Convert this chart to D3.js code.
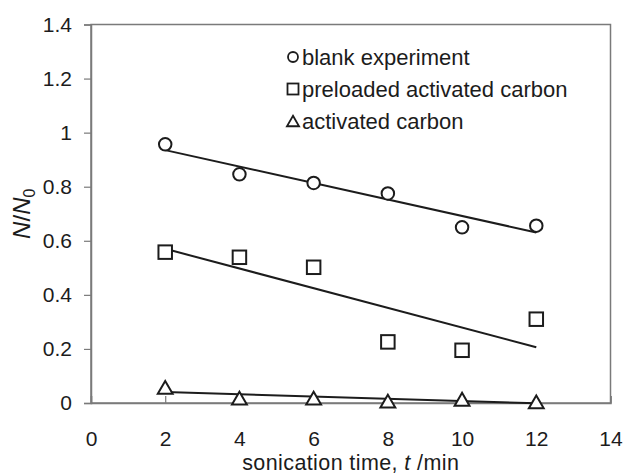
<!DOCTYPE html>
<html>
<head>
<meta charset="utf-8">
<script src="https://cdn.jsdelivr.net/npm/d3@7"></script>
<style>
  html, body { margin: 0; padding: 0; background: #fff; }
  svg { display: block; font-family: "Liberation Sans", Arial, sans-serif; }
</style>
</head>
<body>
<svg id="chart" width="626" height="475"></svg>
<script>
// Sonication time (min)
const times = [2, 4, 6, 8, 10, 12];
// Relative count N/N0 for each treatment
const blankExperiment = [0.957, 0.846, 0.814, 0.775, 0.650, 0.656];
const preloadedCarbon = [0.558, 0.539, 0.502, 0.226, 0.195, 0.310];
const activatedCarbon = [0.058, 0.018, 0.018, 0.007, 0.014, 0.004];

const seriesNames = ["blank experiment", "preloaded activated carbon", "activated carbon"];
const seriesShapes = ["circle", "square", "triangle"];

const xTicks = [0, 2, 4, 6, 8, 10, 12, 14];
const yTicks = [0, 0.2, 0.4, 0.6, 0.8, 1, 1.2, 1.4];
const yTickLabels = ["0", "0.2", "0.4", "0.6", "0.8", "1", "1.2", "1.4"];

const series = [blankExperiment, preloadedCarbon, activatedCarbon].map((vals, i) => ({
  name: seriesNames[i],
  shape: seriesShapes[i],
  points: times.map((t, j) => ({ x: t, y: vals[j] }))
}));

const svg = d3.select("#chart");
const plotL = 91, plotR = 610.5, plotT = 24.5, plotB = 403;

const x = d3.scaleLinear().domain([0, 14]).range([plotL, plotR]);
const y = d3.scaleLinear().domain([0, 1.4]).range([plotB, plotT]);

const axisColor = "#7a7a7a";
const ink = "#1c1c1c";
const tickFont = 21;

// plot frame
svg.append("rect")
  .attr("x", plotL).attr("y", plotT)
  .attr("width", plotR - plotL).attr("height", plotB - plotT)
  .attr("fill", "none").attr("stroke", axisColor).attr("stroke-width", 1.5);

// y axis, ticks pointing outward
const yAxis = svg.append("g")
  .attr("transform", `translate(${plotL},0)`)
  .call(d3.axisLeft(y).tickValues(yTicks)
    .tickFormat((d, i) => yTickLabels[i]).tickSize(7).tickPadding(12));
// x axis, ticks pointing into the plot
const xAxis = svg.append("g")
  .attr("transform", `translate(0,${plotB})`)
  .call(d3.axisBottom(x).tickValues(xTicks).tickSize(-7).tickPadding(28));

[yAxis, xAxis].forEach(g => {
  g.select(".domain").attr("stroke", axisColor).attr("stroke-width", 1.5);
  g.selectAll(".tick line").attr("stroke", axisColor).attr("stroke-width", 1.2);
  g.selectAll(".tick text")
    .attr("fill", ink).attr("font-size", tickFont)
    .attr("font-family", "Liberation Sans, Arial, sans-serif");
});

// least-squares trend line for each series
function linearFit(pts) {
  const mx = d3.mean(pts, p => p.x), my = d3.mean(pts, p => p.y);
  const sxy = d3.sum(pts, p => (p.x - mx) * (p.y - my));
  const sxx = d3.sum(pts, p => (p.x - mx) ** 2);
  const b = sxy / sxx, a = my - b * mx;
  return xv => a + b * xv;
}

const line = d3.line().x(d => x(d[0])).y(d => y(d[1]));
series.forEach(s => {
  const f = linearFit(s.points);
  const x0 = d3.min(times), x1 = d3.max(times);
  svg.append("path")
    .attr("d", line([[x0, f(x0)], [x1, f(x1)]]))
    .attr("fill", "none").attr("stroke", ink).attr("stroke-width", 2);
});

// marker shapes
function drawMarker(g, shape, cx, cy, size) {
  if (shape === "circle") {
    g.append("circle").attr("cx", cx).attr("cy", cy).attr("r", size / 2 - 0.5);
  } else if (shape === "square") {
    g.append("rect").attr("x", cx - size / 2).attr("y", cy - size / 2)
      .attr("width", size).attr("height", size);
  } else {
    const h = size * 0.95, w = size * 1.1;
    g.append("path").attr("d",
      `M${cx},${cy - h / 2}L${cx + w / 2},${cy + h / 2}L${cx - w / 2},${cy + h / 2}Z`);
  }
}

series.forEach(s => {
  const g = svg.append("g").attr("fill", "#fff").attr("stroke", ink).attr("stroke-width", 2);
  s.points.forEach(p => drawMarker(g, s.shape, x(p.x), y(p.y), 13.5));
});

// legend
const legendRows = [57, 89, 121];
series.forEach((s, i) => {
  const g = svg.append("g").attr("fill", "#fff").attr("stroke", ink).attr("stroke-width", 1.8);
  drawMarker(g, s.shape, 293, legendRows[i], 11);
  svg.append("text")
    .attr("x", 302).attr("y", legendRows[i]).attr("dy", "0.36em")
    .attr("font-size", 22).attr("fill", ink)
    .text(s.name);
});

// axis titles
const xTitle = svg.append("text")
  .attr("x", (plotL + plotR) / 2).attr("y", 470.3)
  .attr("text-anchor", "middle").attr("font-size", 21.5)
  .attr("letter-spacing", 0.4).attr("fill", ink);
xTitle.append("tspan").text("sonication time, ");
xTitle.append("tspan").attr("font-style", "italic").text("t");
xTitle.append("tspan").text(" /min");

const yTitle = svg.append("text")
  .attr("transform", `translate(30,${(plotT + plotB) / 2}) rotate(-90)`)
  .attr("text-anchor", "middle").attr("font-size", 24).attr("fill", ink);
yTitle.append("tspan").attr("font-style", "italic").text("N");
yTitle.append("tspan").text("/");
yTitle.append("tspan").attr("font-style", "italic").text("N");
yTitle.append("tspan").attr("font-size", 16).attr("dy", "0.3em").text("0");
</script>
</body>
</html>
